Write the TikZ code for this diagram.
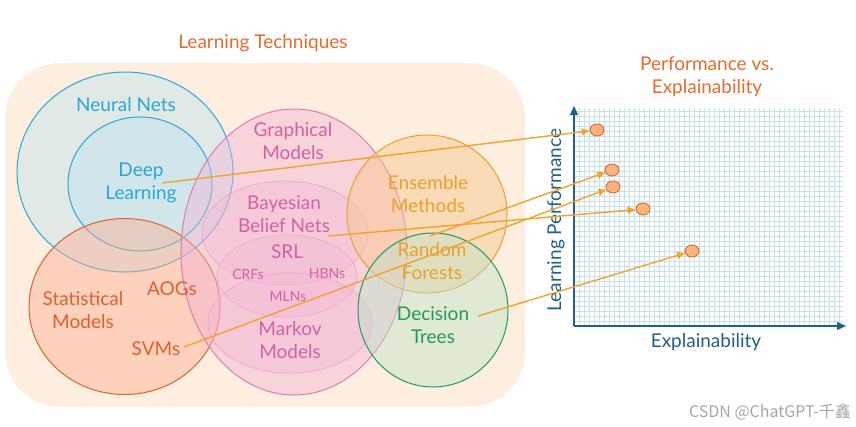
\documentclass[tikz,border=0pt]{standalone}
\usepackage{fontspec}
\setmainfont{Lato}
\newfontfamily\cjkfont{Noto Sans CJK SC}
\usetikzlibrary{arrows.meta,positioning,calc,shapes.geometric}
\definecolor{bgpeach}{HTML}{FDEEDF}
\definecolor{nnblue}{HTML}{2AA7D6}
\definecolor{nnfill}{HTML}{BFE4F2}
\definecolor{stred}{HTML}{E0602E}
\definecolor{stfill}{HTML}{FFAE92}
\definecolor{gmpink}{HTML}{D660A4}
\definecolor{gmedge}{HTML}{DA7DB8}
\definecolor{gmsoft}{HTML}{E9ABCF}
\definecolor{gmfill}{HTML}{F2B3D5}
\definecolor{emorange}{HTML}{EBA02C}
\definecolor{emfill}{HTML}{F8C588}
\definecolor{dtgreen}{HTML}{1F9A64}
\definecolor{dtfill}{HTML}{BCE3CB}
\definecolor{titleorange}{HTML}{E86A2E}
\definecolor{axisblue}{HTML}{1F5F88}
\definecolor{gridblue}{HTML}{C6E0EC}
\definecolor{linkorange}{HTML}{F0A32E}
\definecolor{ptedge}{HTML}{E8602A}
\definecolor{ptfill}{HTML}{F8B57E}

\begin{document}
\begin{tikzpicture}[x=1pt,y=-1pt,
 lbl/.style={align=center,font=\fontsize{19}{23}\selectfont},
 small/.style={font=\fontsize{14}{16}\selectfont},
 set/.style={line width=1pt,fill opacity=0.45},
 inner/.style={line width=0.8pt,draw=gmsoft,fill=gmfill,fill opacity=0.3},
 link/.style={draw=linkorange,line width=1.4pt,-{Triangle[length=8pt,width=7pt]}},
 pt/.style={ellipse,draw=ptedge,fill=ptfill,line width=0.9pt,minimum width=14pt,minimum height=12pt,inner sep=0pt}]
\useasboundingbox (0,0) rectangle (856,426);
\fill[bgpeach,rounded corners=55] (5,63) rectangle (525,407);

\draw[set,draw=nnblue,fill=nnfill] (125,172) ellipse [x radius=108,y radius=100];
\draw[set,draw=nnblue,fill=nnfill] (140,184) ellipse [x radius=72,y radius=67];
\draw[set,draw=stred,fill=stfill] (124.5,306.5) ellipse [x radius=95.5,y radius=88];
\draw[set,draw=gmedge,fill=gmfill] (294,252) ellipse [x radius=113,y radius=143];
\draw[inner] (285,233) ellipse [x radius=83,y radius=52];
\draw[inner] (287,276) ellipse [x radius=70,y radius=41];
\draw[inner] (290,323) ellipse [x radius=82,y radius=50];
\draw[set,draw=emorange,fill=emfill] (427,214) ellipse [x radius=80,y radius=79];
\draw[set,draw=dtgreen,fill=dtfill] (433,310) ellipse [x radius=75,y radius=77];

\node[lbl,text=titleorange] (lt) at (263,43) {Learning Techniques};
\node[lbl,text=nnblue] (nn) at (126,105) {Neural Nets};
\node[lbl,text=nnblue] (dl) at (141,183) {Deep\\Learning};
\node[lbl,text=gmpink] (gm) at (293,141) {Graphical\\Models};
\node[lbl,text=gmpink] (bbn) at (284,214) {Bayesian\\Belief Nets};
\node[lbl,text=gmpink] (srl) at (287,252) {SRL};
\node[small,text=gmpink] (crf) at (248,274) {CRFs};
\node[small,text=gmpink] (hbn) at (327,274) {HBNs};
\node[small,text=gmpink] (mln) at (288,297) {MLNs};
\node[lbl,text=gmpink] (mm) at (290,340) {Markov\\Models};
\node[lbl,text=emorange] (em) at (428,194) {Ensemble\\Methods};
\node[lbl,text=emorange] (rf) at (432,261) {Random\\Forests};
\node[lbl,text=dtgreen] (dt) at (433,325) {Decision\\Trees};
\node[lbl,text=stred] (sm) at (83,310) {Statistical\\Models};
\node[lbl,text=stred] (aog) at (172,289) {AOGs};
\node[lbl,text=stred] (svm) at (156,349) {SVMs};

\node[lbl,text=titleorange] (pe) at (707,77) {Performance vs.\\Explainability};
\foreach \gx in {574,579,...,843} \draw[gridblue,line width=0.3pt] (\gx,108) -- (\gx,326);
\foreach \gy in {326,321,...,108} \draw[gridblue,line width=0.3pt] (574,\gy) -- (843,\gy);
\coordinate (o) at (574,326);
\coordinate (ytop) at (574,106);
\coordinate (xend) at (846,326);
\draw[axisblue,line width=1.2pt,-{Triangle[length=9pt,width=8pt]}] (o) -- (ytop);
\draw[axisblue,line width=1.2pt,-{Triangle[length=9pt,width=8pt]}] (o) -- (xend);
\node[lbl,text=axisblue] (xl) at (706,342) {Explainability};
\node[lbl,text=axisblue,rotate=90] (yl) at (556,220) {Learning Performance};

\foreach \n/\x/\y in {p1/597/130,p2/612/170,p3/613/187,p4/643/209,p5/692/251}
 \node[pt] (\n) at (\x,\y) {};

\coordinate (dls) at (162,183);
\coordinate (bbns) at (328,236);
\coordinate (rfs) at (430,236);
\coordinate (svms) at (184,347);
\coordinate (dts) at (478,316);
\foreach \s/\t in {dls/p1,rfs/p2,svms/p3,bbns/p4,dts/p5}
 \draw[link] (\s) -- (\t);

\node[text=black!35,font=\cjkfont\fontsize{16}{18}\selectfont] (wm) at (770,412) {CSDN @ChatGPT-千鑫};
\end{tikzpicture}
\end{document}
